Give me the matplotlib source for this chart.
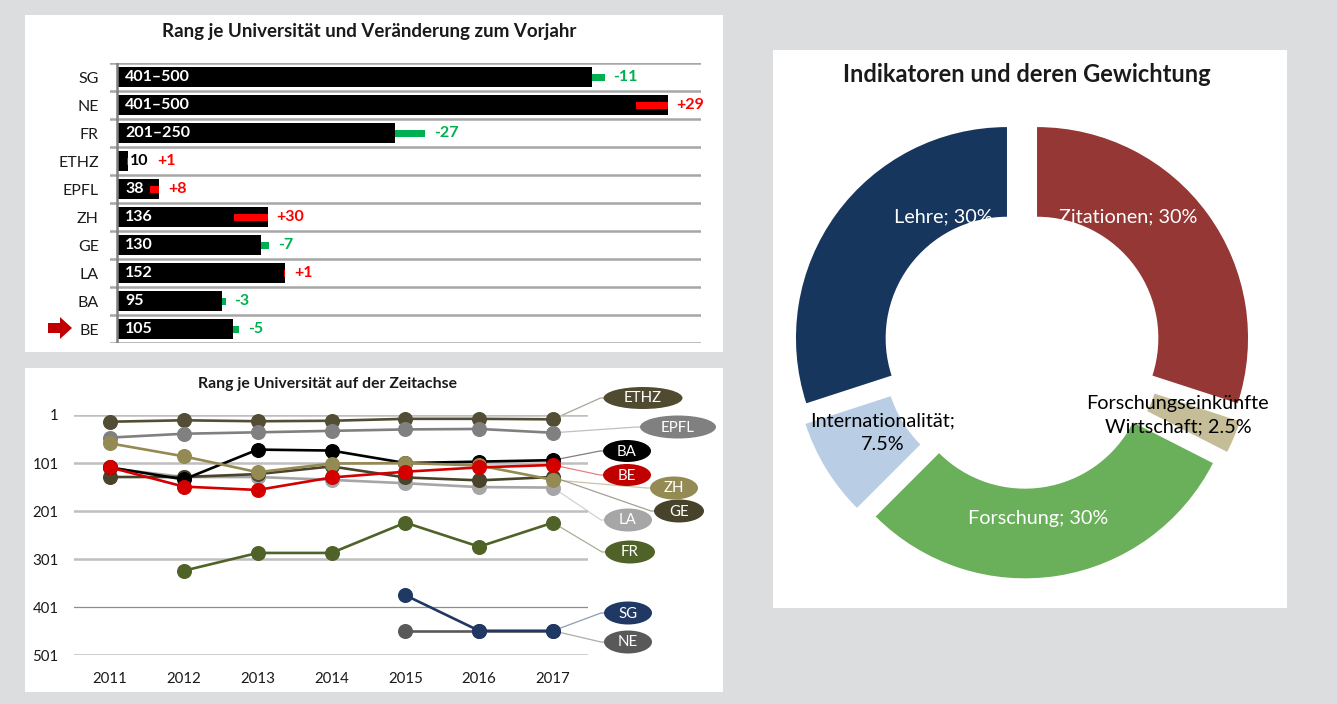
import matplotlib
matplotlib.use('Agg')
import matplotlib.pyplot as plt
from matplotlib.patches import Rectangle, Ellipse, Polygon
import numpy as np

plt.rcParams['font.family'] = ['Lato', 'DejaVu Sans']

W, H = 1337, 704
DPI = 100

# ---------------- data: bar chart ----------------
bar_unis = ['SG', 'NE', 'FR', 'ETHZ', 'EPFL', 'ZH', 'GE', 'LA', 'BA', 'BE']
bar_values = [429, 497, 251, 10, 38, 136, 130, 152, 95, 105]
bar_labels = ['401–500', '401–500', '201–250', '10', '38', '136', '130', '152', '95', '105']
bar_changes = [-11, 29, -27, 1, 8, 30, -7, 1, -3, -5]

# ---------------- data: line chart ----------------
years = ['2011', '2012', '2013', '2014', '2015', '2016', '2017']
nan = np.nan
rank_ETHZ = [15, 12, 14, 13, 9, 9, 10]
rank_EPFL = [48, 40, 37, 34, 31, 30, 38]
rank_BA = [110, 135, 73, 75, 101, 98, 95]
rank_BE = [110, 150, 157, 131, 119, 110, 105]
rank_ZH = [60, 87, 120, 102, 101, 106, 136]
rank_GE = [130, 130, 124, 108, 131, 137, 130]
rank_LA = [112, 130, 130, 136, 143, 151, 152]
rank_FR = [nan, 325, 288, 288, 225, 275, 225]
rank_SG = [nan, nan, nan, nan, 376, 450, 450]
rank_NE = [nan, nan, nan, nan, 450, 450, 450]
rank_ticks = [1, 101, 201, 301, 401, 501]

# ---------------- data: donut ----------------
donut_values = [30, 2.5, 30, 7.5, 30]
donut_texts = ['Zitationen; 30%', 'Forschungseinkünfte\nWirtschaft; 2.5%', 'Forschung; 30%',
               'Internationalität;\n7.5%', 'Lehre; 30%']

# ---------------- styles ----------------
series = [
    ('LA', rank_LA, '#A6A6A6'),
    ('GE', rank_GE, '#48432A'),
    ('ETHZ', rank_ETHZ, '#524D34'),
    ('EPFL', rank_EPFL, '#808080'),
    ('BA', rank_BA, '#000000'),
    ('ZH', rank_ZH, '#948A54'),
    ('BE', rank_BE, '#D40000'),
    ('FR', rank_FR, '#4F6228'),
    ('NE', rank_NE, '#595959'),
    ('SG', rank_SG, '#1F3864'),
]
ellipse_fill = {'ETHZ': '#4F4A30', 'EPFL': '#808080', 'BA': '#000000', 'BE': '#C00000',
                'ZH': '#948A54', 'GE': '#47422A', 'LA': '#A6A6A6', 'FR': '#4F6228',
                'SG': '#1F3864', 'NE': '#595959'}
# ellipse label layout (image pixels: cx, cy, w, h)
ellipse_pos = {'ETHZ': (643, 398, 79, 22), 'EPFL': (678, 427, 76, 23), 'BA': (627, 451, 48, 22),
               'BE': (627, 475, 48, 22), 'ZH': (674, 488, 48, 23), 'GE': (679, 511, 50, 23),
               'LA': (628, 520, 48, 23), 'FR': (630, 552, 50, 23), 'SG': (628, 613, 48, 23),
               'NE': (628, 642, 48, 23)}
donut_colors = ['#953735', '#C4BD97', '#6AAF5A', '#B9CDE5', '#17365D']

fig = plt.figure(figsize=(W / DPI, H / DPI), dpi=DPI)
fig.patch.set_facecolor('#DCDDDF')

# background overlay in image-pixel coordinates
bg = fig.add_axes([0, 0, 1, 1], zorder=0)
bg.set_xlim(0, W)
bg.set_ylim(H, 0)
bg.axis('off')
for (x0, y0, x1, y1) in [(25, 15, 723, 352), (25, 368, 723, 692), (773, 50, 1287, 608)]:
    bg.add_patch(Rectangle((x0, y0), x1 - x0, y1 - y0, facecolor='white', edgecolor='none'))

TXT = '#1A1A1A'

# ================= bar chart =================
bg.text(369, 31, 'Rang je Universität und Veränderung zum Vorjahr', ha='center', va='center',
        fontsize=13.5, fontweight='bold', color=TXT)

ax1 = fig.add_axes([110 / W, 1 - 343.3 / H, 591 / W, 280 / H], zorder=1)
ax1.set_facecolor('none')
px_per_unit = 1.108
ax1.set_xlim(-7 / px_per_unit, 584 / px_per_unit)
n = len(bar_unis)
ax1.set_ylim(n - 0.5, -0.5)
for s in ax1.spines.values():
    s.set_visible(False)
ax1.set_xticks([])
ax1.set_yticks(range(n))
ax1.set_yticklabels(bar_unis, fontsize=11.5, color=TXT)
ax1.tick_params(axis='y', length=0, pad=8)
for b in np.arange(-0.5, n, 1.0):
    ax1.axhline(b, color='#A6A6A6', lw=1.8, zorder=1)
ax1.axvline(0, ymin=-0.01, ymax=1.0, color='#7F7F7F', lw=1.8, zorder=4)

ypos = np.arange(n)
ax1.barh(ypos, bar_values, height=0.72, color='black', zorder=2)
for i, (v, c, lab) in enumerate(zip(bar_values, bar_changes, bar_labels)):
    col = '#00B050' if c < 0 else '#FF0000'
    left = v if c < 0 else v - c
    ax1.barh(i, abs(c), left=left, height=0.24, color=col, zorder=3)
    if v > 25:
        vt = ax1.annotate(lab, xy=(0, i), xytext=(6, 0), textcoords='offset points',
                          ha='left', va='center', fontsize=11.5, fontweight='bold', color='white', zorder=5)
        xend = v + max(0, -c)
        ax1.annotate(f'{c:+d}', xy=(xend, i), xytext=(6.5, 0), textcoords='offset points',
                     ha='left', va='center', fontsize=11.5, fontweight='bold', color=col, zorder=5)
    else:
        vt = ax1.annotate(lab, xy=(v, i), xytext=(1.5, 0), textcoords='offset points',
                          ha='left', va='center', fontsize=11.5, fontweight='bold', color='black', zorder=5)
        ax1.annotate(f'{c:+d}', xy=(1, 0.5), xycoords=vt, xytext=(6, 0), textcoords='offset points',
                     ha='left', va='center', fontsize=11.5, fontweight='bold', color=col, zorder=5)

# red arrow marking BE
bg.add_patch(Polygon([(48, 323), (60, 323), (60, 317), (72, 328), (60, 339), (60, 333), (48, 333)],
                     closed=True, facecolor='#C00000', edgecolor='none'))

# ================= line chart =================
bg.text(327, 384, 'Rang je Universität auf der Zeitachse', ha='center', va='center',
        fontsize=11.3, fontweight='bold', color=TXT)

ax2 = fig.add_axes([74 / W, 1 - 655.3 / H, 514 / W, 240.3 / H], zorder=1)
ax2.set_facecolor('none')
xs = np.arange(len(years))
ax2.set_xlim(-0.4876, 6.474)
ax2.set_ylim(rank_ticks[-1], rank_ticks[0])
for s in ax2.spines.values():
    s.set_visible(False)
ax2.set_xticks(xs)
ax2.set_xticklabels(years, fontsize=10.8, color=TXT)
ax2.set_yticks(rank_ticks)
ax2.set_yticklabels([str(t) for t in rank_ticks], fontsize=10.8, color=TXT)
ax2.tick_params(axis='x', length=0, pad=12)
ax2.tick_params(axis='y', length=0, pad=11)
for t in rank_ticks:
    if t == 401:
        ax2.axhline(t, color='#8C8C8C', lw=0.9, zorder=0)
    else:
        ax2.axhline(t, color='#BFBFBF', lw=1.8, zorder=0)

for name, data, col in series:
    ax2.plot(xs, data, color=col, lw=1.9, marker='o', ms=9.8, clip_on=False, zorder=3)

inv = bg.transData.inverted()
for name, data, col in series:
    last = data[-1]
    px, py = inv.transform(ax2.transData.transform((xs[-1], last)))
    cx, cy, w, h = ellipse_pos[name]
    bg.plot([px, cx - w / 2 - 3, cx - w / 2], [py, cy, cy], color=col, alpha=0.5, lw=0.9, zorder=1)
for name, data, col in series:
    cx, cy, w, h = ellipse_pos[name]
    bg.add_patch(Ellipse((cx, cy), w, h, facecolor=ellipse_fill[name], edgecolor='none', zorder=2))
    bg.text(cx, cy + 0.5, name, ha='center', va='center', fontsize=10.8, color='white', zorder=3)

# ================= donut =================
bg.text(1027, 74, 'Indikatoren und deren Gewichtung', ha='center', va='center',
        fontsize=17, fontweight='bold', color=TXT)

R_px = 211
half = 1.3
cxp, cyp = 1022, 349
ax3 = fig.add_axes([(cxp - half * R_px) / W, (H - cyp - half * R_px) / H,
                    2 * half * R_px / W, 2 * half * R_px / H], zorder=1)
ax3.set_facecolor('none')
ax3.pie(donut_values, colors=donut_colors, startangle=90, counterclock=False, radius=1.0,
        explode=[0.088] * len(donut_values), wedgeprops=dict(width=0.425, edgecolor='none'))
ax3.set_xlim(-half, half)
ax3.set_ylim(-half, half)
ax3.axis('off')

label_xy = [(0.502, 0.626), (0.739, -0.313), (0.076, -0.801), (-0.659, -0.398), (-0.374, 0.626)]
label_col = ['white', 'black', 'white', 'black', 'white']
for t, (lx, ly), lc in zip(donut_texts, label_xy, label_col):
    ax3.text(lx, ly, t, ha='center', va='center', fontsize=14.3, color=lc,
             linespacing=1.45, zorder=5)

fig.savefig('out.png', dpi=DPI, facecolor=fig.get_facecolor())
